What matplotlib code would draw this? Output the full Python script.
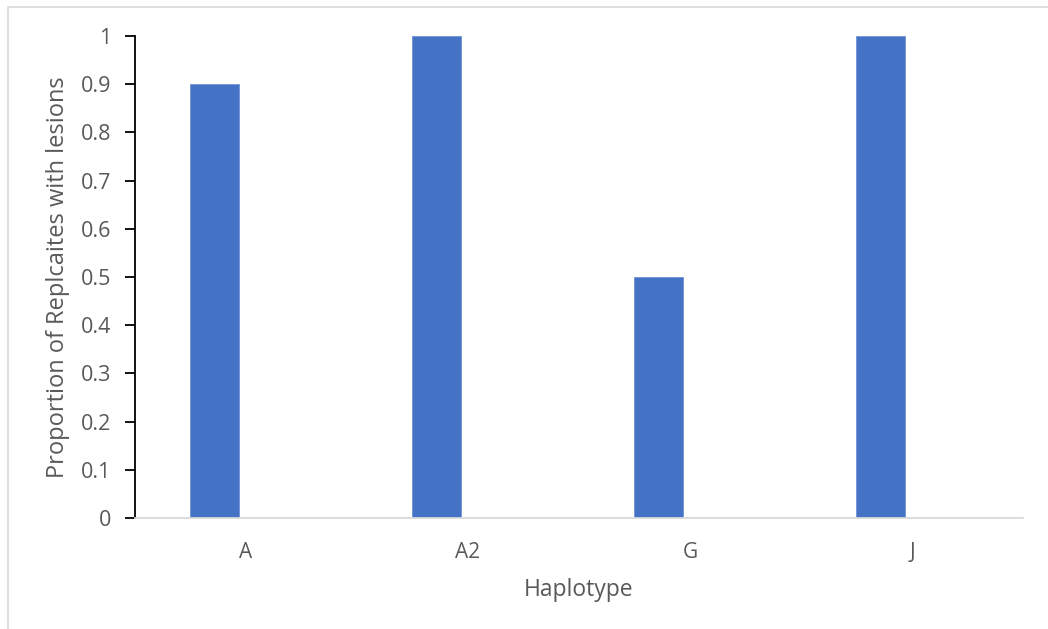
import matplotlib.pyplot as plt
from matplotlib.patches import Rectangle
import numpy as np

haplotypes = ['A', 'A2', 'G', 'J']
proportions = [0.9, 1.0, 0.5, 1.0]
y_ticks = [0, 0.1, 0.2, 0.3, 0.4, 0.5, 0.6, 0.7, 0.8, 0.9, 1.0]
y_tick_labels = ['0', '0.1', '0.2', '0.3', '0.4', '0.5', '0.6', '0.7', '0.8', '0.9', '1']

text_color = '#595959'
bar_color = '#4472c4'

plt.rcParams['font.family'] = ['Open Sans', 'DejaVu Sans']

fig = plt.figure(figsize=(10.48, 6.29), dpi=100)
ax = fig.add_axes([0.1288, 0.1765, 0.8473, 0.7663])

# chart area frame
fig.patches.append(Rectangle((8 / 1048, -0.1), 1.2, 1 - 7 / 629 + 0.1,
                             transform=fig.transFigure, fill=False,
                             edgecolor='#d9d9d9', linewidth=1.2))

x = np.arange(len(haplotypes))
ax.bar(x - 0.142, proportions, width=0.22, color=bar_color,
       edgecolor='#6f93d4', linewidth=0.6, zorder=2)

ax.set_xlim(-0.5, len(haplotypes) - 0.5)
ax.set_ylim(0, 1)
ax.set_yticks(y_ticks)
ax.set_yticklabels(y_tick_labels)
ax.set_xticks(x)
ax.set_xticklabels(haplotypes)

for side in ['top', 'right']:
    ax.spines[side].set_visible(False)
ax.spines['left'].set_color('black')
ax.spines['left'].set_linewidth(1.3)
ax.spines['bottom'].set_color('#d9d9d9')
ax.spines['bottom'].set_linewidth(1.3)

ax.tick_params(axis='y', direction='out', length=7, width=1.3, color='black',
               labelcolor=text_color, labelsize=15.5, pad=10)
ax.tick_params(axis='x', length=0, labelcolor=text_color, labelsize=15, pad=17)

ax.set_xlabel('Haplotype', color=text_color, fontsize=16.5, labelpad=11)
ax.set_ylabel('Proportion of Replcaites with lesions', color=text_color,
              fontsize=17, labelpad=8)

fig.savefig('out.png', dpi=100)
